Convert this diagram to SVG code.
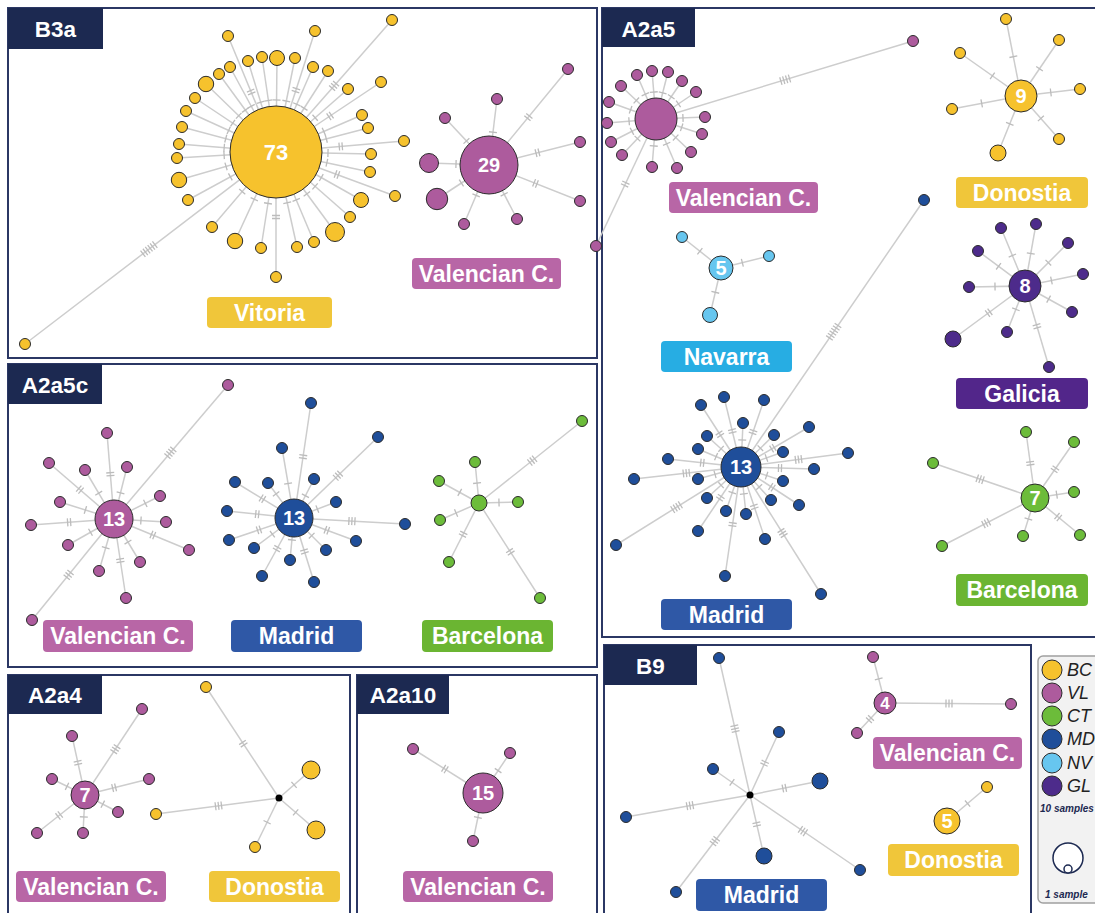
<svg xmlns="http://www.w3.org/2000/svg" width="1095" height="913" viewBox="0 0 1095 913">
<style>
.pn{fill:none;stroke:#2b3764;stroke-width:2}
.hd{fill:#1c2951}
.ht{font-family:"Liberation Sans",Arial,sans-serif;font-weight:bold;font-size:22.5px;fill:#fff;text-anchor:middle}
.ln line{stroke:#cdcdcd;stroke-width:1.5}
marker path{stroke:#bcbcbc;stroke-width:1.3;fill:none}
.n{stroke:#2b2b2b;stroke-width:1}
.bc{fill:#f6c22d}.vl{fill:#ad5b9d}.ct{fill:#6cbc3a}.md{fill:#1f4e9a}.nv{fill:#67c6ef}.gl{fill:#4d2b8b}.bk{fill:#000}
.num{font-family:"Liberation Sans",Arial,sans-serif;font-weight:bold;font-size:20px;fill:#fff;text-anchor:middle}
.lb{font-family:"Liberation Sans",Arial,sans-serif;font-weight:bold;font-size:23px;fill:#fff;text-anchor:middle}
.Lbc{fill:#f0c63a}.Lvl{fill:#b866a6}.Lmd{fill:#2f58a6}.Lct{fill:#6bb532}.Lnv{fill:#27ade3}.Lgl{fill:#52268a}
.lg{font-family:"Liberation Sans",Arial,sans-serif;font-style:italic;font-size:18px;fill:#222}
.ls{font-family:"Liberation Sans",Arial,sans-serif;font-style:italic;font-weight:bold;font-size:10px;fill:#1c2951}
</style>
<defs>
<marker id="s20" orient="auto" markerUnits="userSpaceOnUse" viewBox="0 -10 200 20" markerWidth="200" markerHeight="20" refX="0" refY="0" overflow="visible"><path d="M20-4V4"/></marker>
<marker id="s22" orient="auto" markerUnits="userSpaceOnUse" viewBox="0 -10 200 20" markerWidth="200" markerHeight="20" refX="0" refY="0" overflow="visible"><path d="M22-4V4"/></marker>
<marker id="s25" orient="auto" markerUnits="userSpaceOnUse" viewBox="0 -10 200 20" markerWidth="200" markerHeight="20" refX="0" refY="0" overflow="visible"><path d="M25-4V4"/></marker>
<marker id="s27" orient="auto" markerUnits="userSpaceOnUse" viewBox="0 -10 200 20" markerWidth="200" markerHeight="20" refX="0" refY="0" overflow="visible"><path d="M27-4V4"/></marker>
<marker id="s30" orient="auto" markerUnits="userSpaceOnUse" viewBox="0 -10 200 20" markerWidth="200" markerHeight="20" refX="0" refY="0" overflow="visible"><path d="M30-4V4"/></marker>
<marker id="s33" orient="auto" markerUnits="userSpaceOnUse" viewBox="0 -10 200 20" markerWidth="200" markerHeight="20" refX="0" refY="0" overflow="visible"><path d="M33-4V4"/></marker>
<marker id="s35" orient="auto" markerUnits="userSpaceOnUse" viewBox="0 -10 200 20" markerWidth="200" markerHeight="20" refX="0" refY="0" overflow="visible"><path d="M35-4V4"/></marker>
<marker id="s40" orient="auto" markerUnits="userSpaceOnUse" viewBox="0 -10 200 20" markerWidth="200" markerHeight="20" refX="0" refY="0" overflow="visible"><path d="M40-4V4"/></marker>
<marker id="s52" orient="auto" markerUnits="userSpaceOnUse" viewBox="0 -10 200 20" markerWidth="200" markerHeight="20" refX="0" refY="0" overflow="visible"><path d="M52-4V4"/></marker>
<marker id="d22" orient="auto" markerUnits="userSpaceOnUse" viewBox="0 -10 200 20" markerWidth="200" markerHeight="20" refX="0" refY="0" overflow="visible"><path d="M20.5-4V4M23.5-4V4"/></marker>
<marker id="d30" orient="auto" markerUnits="userSpaceOnUse" viewBox="0 -10 200 20" markerWidth="200" markerHeight="20" refX="0" refY="0" overflow="visible"><path d="M28.5-4V4M31.5-4V4"/></marker>
<marker id="d33" orient="auto" markerUnits="userSpaceOnUse" viewBox="0 -10 200 20" markerWidth="200" markerHeight="20" refX="0" refY="0" overflow="visible"><path d="M31.5-4V4M34.5-4V4"/></marker>
<marker id="d35" orient="auto" markerUnits="userSpaceOnUse" viewBox="0 -10 200 20" markerWidth="200" markerHeight="20" refX="0" refY="0" overflow="visible"><path d="M33.5-4V4M36.5-4V4"/></marker>
<marker id="d37" orient="auto" markerUnits="userSpaceOnUse" viewBox="0 -10 200 20" markerWidth="200" markerHeight="20" refX="0" refY="0" overflow="visible"><path d="M35.5-4V4M38.5-4V4"/></marker>
<marker id="d39" orient="auto" markerUnits="userSpaceOnUse" viewBox="0 -10 200 20" markerWidth="200" markerHeight="20" refX="0" refY="0" overflow="visible"><path d="M37.5-4V4M40.5-4V4"/></marker>
<marker id="d42" orient="auto" markerUnits="userSpaceOnUse" viewBox="0 -10 200 20" markerWidth="200" markerHeight="20" refX="0" refY="0" overflow="visible"><path d="M40.5-4V4M43.5-4V4"/></marker>
<marker id="d45" orient="auto" markerUnits="userSpaceOnUse" viewBox="0 -10 200 20" markerWidth="200" markerHeight="20" refX="0" refY="0" overflow="visible"><path d="M43.5-4V4M46.5-4V4"/></marker>
<marker id="d50" orient="auto" markerUnits="userSpaceOnUse" viewBox="0 -10 200 20" markerWidth="200" markerHeight="20" refX="0" refY="0" overflow="visible"><path d="M48.5-4V4M51.5-4V4"/></marker>
<marker id="d58" orient="auto" markerUnits="userSpaceOnUse" viewBox="0 -10 200 20" markerWidth="200" markerHeight="20" refX="0" refY="0" overflow="visible"><path d="M56.5-4V4M59.5-4V4"/></marker>
<marker id="d62" orient="auto" markerUnits="userSpaceOnUse" viewBox="0 -10 200 20" markerWidth="200" markerHeight="20" refX="0" refY="0" overflow="visible"><path d="M60.5-4V4M63.5-4V4"/></marker>
<marker id="d65" orient="auto" markerUnits="userSpaceOnUse" viewBox="0 -10 200 20" markerWidth="200" markerHeight="20" refX="0" refY="0" overflow="visible"><path d="M63.5-4V4M66.5-4V4"/></marker>
<marker id="d72" orient="auto" markerUnits="userSpaceOnUse" viewBox="0 -10 200 20" markerWidth="200" markerHeight="20" refX="0" refY="0" overflow="visible"><path d="M70.5-4V4M73.5-4V4"/></marker>
<marker id="t55" orient="auto" markerUnits="userSpaceOnUse" viewBox="0 -10 200 20" markerWidth="200" markerHeight="20" refX="0" refY="0" overflow="visible"><path d="M52-4V4M55-4V4M58-4V4"/></marker>
<marker id="t58" orient="auto" markerUnits="userSpaceOnUse" viewBox="0 -10 200 20" markerWidth="200" markerHeight="20" refX="0" refY="0" overflow="visible"><path d="M55-4V4M58-4V4M61-4V4"/></marker>
<marker id="t61" orient="auto" markerUnits="userSpaceOnUse" viewBox="0 -10 200 20" markerWidth="200" markerHeight="20" refX="0" refY="0" overflow="visible"><path d="M58-4V4M61-4V4M64-4V4"/></marker>
<marker id="t64" orient="auto" markerUnits="userSpaceOnUse" viewBox="0 -10 200 20" markerWidth="200" markerHeight="20" refX="0" refY="0" overflow="visible"><path d="M61-4V4M64-4V4M67-4V4"/></marker>
<marker id="t68" orient="auto" markerUnits="userSpaceOnUse" viewBox="0 -10 200 20" markerWidth="200" markerHeight="20" refX="0" refY="0" overflow="visible"><path d="M65-4V4M68-4V4M71-4V4"/></marker>
<marker id="t72" orient="auto" markerUnits="userSpaceOnUse" viewBox="0 -10 200 20" markerWidth="200" markerHeight="20" refX="0" refY="0" overflow="visible"><path d="M69-4V4M72-4V4M75-4V4"/></marker>
<marker id="t78" orient="auto" markerUnits="userSpaceOnUse" viewBox="0 -10 200 20" markerWidth="200" markerHeight="20" refX="0" refY="0" overflow="visible"><path d="M75-4V4M78-4V4M81-4V4"/></marker>
<marker id="t88" orient="auto" markerUnits="userSpaceOnUse" viewBox="0 -10 200 20" markerWidth="200" markerHeight="20" refX="0" refY="0" overflow="visible"><path d="M85-4V4M88-4V4M91-4V4"/></marker>
<marker id="q76" orient="auto" markerUnits="userSpaceOnUse" viewBox="0 -10 200 20" markerWidth="200" markerHeight="20" refX="0" refY="0" overflow="visible"><path d="M71.5-4V4M74.5-4V4M77.5-4V4M80.5-4V4"/></marker>
<marker id="q87" orient="auto" markerUnits="userSpaceOnUse" viewBox="0 -10 200 20" markerWidth="200" markerHeight="20" refX="0" refY="0" overflow="visible"><path d="M82.5-4V4M85.5-4V4M88.5-4V4M91.5-4V4"/></marker>
<marker id="q135" orient="auto" markerUnits="userSpaceOnUse" viewBox="0 -10 200 20" markerWidth="200" markerHeight="20" refX="0" refY="0" overflow="visible"><path d="M130.5-4V4M133.5-4V4M136.5-4V4M139.5-4V4"/></marker>
<marker id="x160" orient="auto" markerUnits="userSpaceOnUse" viewBox="0 -10 200 20" markerWidth="200" markerHeight="20" refX="0" refY="0" overflow="visible"><path d="M152.5-4V4M155.5-4V4M158.5-4V4M161.5-4V4M164.5-4V4M167.5-4V4"/></marker>
<marker id="x164" orient="auto" markerUnits="userSpaceOnUse" viewBox="0 -10 200 20" markerWidth="200" markerHeight="20" refX="0" refY="0" overflow="visible"><path d="M156.5-4V4M159.5-4V4M162.5-4V4M165.5-4V4M168.5-4V4M171.5-4V4"/></marker>
</defs>
<rect width="1095" height="913" fill="#fff"/>
<g id="panels">
<rect class="pn" x="8" y="8" width="589" height="350"/>
<rect class="pn" x="602" y="8" width="500" height="629"/>
<rect class="pn" x="8" y="364" width="589" height="303"/>
<rect class="pn" x="8" y="675" width="342" height="250"/>
<rect class="pn" x="357" y="675" width="240" height="250"/>
<rect class="pn" x="604" y="645" width="427" height="280"/>
</g>
<g id="connectors" class="ln">
<g marker-start="url(#s52)">
<line x1="276" y1="152" x2="248" y2="61"/><line x1="276" y1="152" x2="262" y2="57"/><line x1="276" y1="152" x2="277" y2="58"/><line x1="276" y1="152" x2="295" y2="58"/><line x1="276" y1="152" x2="313" y2="67"/><line x1="276" y1="152" x2="328" y2="71"/><line x1="276" y1="152" x2="348" y2="89"/><line x1="276" y1="152" x2="362" y2="115"/><line x1="276" y1="152" x2="368" y2="128"/><line x1="276" y1="152" x2="371" y2="154"/><line x1="276" y1="152" x2="370" y2="172"/><line x1="276" y1="152" x2="361" y2="200"/><line x1="276" y1="152" x2="350" y2="217"/><line x1="276" y1="152" x2="335" y2="232"/><line x1="276" y1="152" x2="314" y2="242"/><line x1="276" y1="152" x2="297" y2="247"/><line x1="276" y1="152" x2="261" y2="248"/><line x1="276" y1="152" x2="235" y2="241"/><line x1="276" y1="152" x2="212" y2="227"/><line x1="276" y1="152" x2="188" y2="200"/><line x1="276" y1="152" x2="179" y2="180"/><line x1="276" y1="152" x2="177" y2="158"/><line x1="276" y1="152" x2="179" y2="144"/><line x1="276" y1="152" x2="182" y2="127"/><line x1="276" y1="152" x2="186" y2="111"/><line x1="276" y1="152" x2="195" y2="98"/><line x1="276" y1="152" x2="206" y2="84"/><line x1="276" y1="152" x2="219" y2="74"/><line x1="276" y1="152" x2="230" y2="67"/>
</g>
<g marker-start="url(#d65)">
<line x1="276" y1="152" x2="228" y2="36"/><line x1="276" y1="152" x2="315" y2="31"/><line x1="276" y1="152" x2="381" y2="82"/><line x1="276" y1="152" x2="404" y2="141"/><line x1="276" y1="152" x2="395" y2="196"/><line x1="276" y1="152" x2="276" y2="277"/>
</g>
<line x1="276" y1="152" x2="392" y2="20" marker-start="url(#t88)"/>
<line x1="276" y1="152" x2="25" y2="344" marker-start="url(#x160)"/>
<g marker-start="url(#s33)">
<line x1="489" y1="165" x2="497" y2="99"/><line x1="489" y1="165" x2="445" y2="118"/><line x1="489" y1="165" x2="429" y2="163"/><line x1="489" y1="165" x2="437" y2="199"/><line x1="489" y1="165" x2="464" y2="224"/><line x1="489" y1="165" x2="517" y2="219"/>
</g>
<line x1="489" y1="165" x2="568" y2="69" marker-start="url(#d62)"/>
<line x1="489" y1="165" x2="580" y2="142" marker-start="url(#d50)"/>
<line x1="489" y1="165" x2="580" y2="201" marker-start="url(#d50)"/>
<g marker-start="url(#s27)">
<line x1="656" y1="119" x2="637" y2="75"/><line x1="656" y1="119" x2="652" y2="71"/><line x1="656" y1="119" x2="668" y2="72"/><line x1="656" y1="119" x2="682" y2="81"/><line x1="656" y1="119" x2="696" y2="92"/><line x1="656" y1="119" x2="705" y2="117"/><line x1="656" y1="119" x2="702" y2="134"/><line x1="656" y1="119" x2="691" y2="152"/><line x1="656" y1="119" x2="677" y2="168"/><line x1="656" y1="119" x2="652" y2="167"/><line x1="656" y1="119" x2="622" y2="155"/><line x1="656" y1="119" x2="611" y2="142"/><line x1="656" y1="119" x2="607" y2="123"/><line x1="656" y1="119" x2="609" y2="102"/><line x1="656" y1="119" x2="621" y2="86"/>
</g>
<line x1="656" y1="119" x2="913" y2="41" marker-start="url(#q135)"/>
<line x1="656" y1="119" x2="596" y2="246" marker-start="url(#d72)"/>
<line x1="1021" y1="96" x2="1006" y2="19" marker-start="url(#s40)"/>
<line x1="1021" y1="96" x2="1059" y2="40" marker-start="url(#s33)"/>
<line x1="1021" y1="96" x2="1080" y2="89" marker-start="url(#s30)"/>
<line x1="1021" y1="96" x2="1059" y2="139" marker-start="url(#s30)"/>
<line x1="1021" y1="96" x2="998" y2="153" marker-start="url(#s30)"/>
<line x1="1021" y1="96" x2="952" y2="109" marker-start="url(#s40)"/>
<line x1="1021" y1="96" x2="960" y2="53" marker-start="url(#s35)"/>
<line x1="1025" y1="286" x2="1001" y2="228" marker-start="url(#s33)"/>
<line x1="1025" y1="286" x2="1036" y2="224" marker-start="url(#s33)"/>
<line x1="1025" y1="286" x2="1068" y2="243" marker-start="url(#s33)"/>
<line x1="1025" y1="286" x2="1083" y2="274" marker-start="url(#s27)"/>
<line x1="1025" y1="286" x2="1072" y2="312" marker-start="url(#s27)"/>
<line x1="1025" y1="286" x2="1049" y2="367" marker-start="url(#d42)"/>
<line x1="1025" y1="286" x2="1007" y2="332" marker-start="url(#s25)"/>
<line x1="1025" y1="286" x2="953" y2="339" marker-start="url(#d45)"/>
<line x1="1025" y1="286" x2="969" y2="287" marker-start="url(#s30)"/>
<line x1="1025" y1="286" x2="978" y2="251" marker-start="url(#s33)"/>
<line x1="721" y1="268" x2="682" y2="237" marker-start="url(#s27)"/>
<line x1="721" y1="268" x2="769" y2="256" marker-start="url(#s22)"/>
<line x1="721" y1="268" x2="710" y2="315" marker-start="url(#s25)"/>
<g marker-start="url(#s27)">
<line x1="741" y1="467" x2="743" y2="423"/><line x1="741" y1="467" x2="707" y2="436"/><line x1="741" y1="467" x2="774" y2="435"/><line x1="741" y1="467" x2="698" y2="449"/><line x1="741" y1="467" x2="783" y2="452"/><line x1="741" y1="467" x2="698" y2="479"/><line x1="741" y1="467" x2="783" y2="481"/><line x1="741" y1="467" x2="707" y2="498"/><line x1="741" y1="467" x2="771" y2="500"/><line x1="741" y1="467" x2="726" y2="511"/><line x1="741" y1="467" x2="746" y2="514"/>
</g>
<g marker-start="url(#d37)">
<line x1="741" y1="467" x2="724" y2="397"/><line x1="741" y1="467" x2="764" y2="400"/><line x1="741" y1="467" x2="809" y2="427"/><line x1="741" y1="467" x2="799" y2="505"/><line x1="741" y1="467" x2="698" y2="531"/>
</g>
<g marker-start="url(#d39)">
<line x1="741" y1="467" x2="701" y2="405"/><line x1="741" y1="467" x2="668" y2="459"/><line x1="741" y1="467" x2="814" y2="469"/>
</g>
<line x1="741" y1="467" x2="848" y2="453" marker-start="url(#t58)"/>
<line x1="741" y1="467" x2="634" y2="479" marker-start="url(#t55)"/>
<line x1="741" y1="467" x2="765" y2="539" marker-start="url(#d42)"/>
<line x1="741" y1="467" x2="616" y2="545" marker-start="url(#q76)"/>
<line x1="741" y1="467" x2="725" y2="576" marker-start="url(#d58)"/>
<line x1="741" y1="467" x2="821" y2="594" marker-start="url(#t78)"/>
<line x1="741" y1="467" x2="924" y2="200" marker-start="url(#x164)"/>
<line x1="1035" y1="498" x2="1026" y2="432" marker-start="url(#d35)"/>
<line x1="1035" y1="498" x2="1074" y2="442" marker-start="url(#d35)"/>
<line x1="1035" y1="498" x2="1074" y2="492" marker-start="url(#s22)"/>
<line x1="1035" y1="498" x2="1080" y2="535" marker-start="url(#d30)"/>
<line x1="1035" y1="498" x2="1023" y2="536" marker-start="url(#s22)"/>
<line x1="1035" y1="498" x2="942" y2="546" marker-start="url(#t55)"/>
<line x1="1035" y1="498" x2="933" y2="463" marker-start="url(#t58)"/>
<line x1="114" y1="519" x2="228" y2="385" marker-start="url(#q87)"/>
<line x1="114" y1="519" x2="107" y2="433" marker-start="url(#d45)"/>
<line x1="114" y1="519" x2="49" y2="463" marker-start="url(#d45)"/>
<line x1="114" y1="519" x2="85" y2="470" marker-start="url(#s30)"/>
<line x1="114" y1="519" x2="127" y2="467" marker-start="url(#s27)"/>
<line x1="114" y1="519" x2="160" y2="496" marker-start="url(#s35)"/>
<line x1="114" y1="519" x2="60" y2="502" marker-start="url(#s30)"/>
<line x1="114" y1="519" x2="166" y2="522" marker-start="url(#s27)"/>
<line x1="114" y1="519" x2="31" y2="525" marker-start="url(#d45)"/>
<line x1="114" y1="519" x2="189" y2="550" marker-start="url(#d42)"/>
<line x1="114" y1="519" x2="68" y2="545" marker-start="url(#s27)"/>
<line x1="114" y1="519" x2="140" y2="562" marker-start="url(#s27)"/>
<line x1="114" y1="519" x2="99" y2="571" marker-start="url(#s30)"/>
<line x1="114" y1="519" x2="126" y2="598" marker-start="url(#d42)"/>
<line x1="114" y1="519" x2="32" y2="620" marker-start="url(#t72)"/>
<line x1="294" y1="518" x2="311" y2="403" marker-start="url(#d62)"/>
<line x1="294" y1="518" x2="378" y2="437" marker-start="url(#t61)"/>
<line x1="294" y1="518" x2="282" y2="448" marker-start="url(#s35)"/>
<line x1="294" y1="518" x2="235" y2="482" marker-start="url(#d37)"/>
<line x1="294" y1="518" x2="268" y2="483" marker-start="url(#s30)"/>
<line x1="294" y1="518" x2="314" y2="479" marker-start="url(#s25)"/>
<line x1="294" y1="518" x2="336" y2="502" marker-start="url(#s25)"/>
<line x1="294" y1="518" x2="227" y2="511" marker-start="url(#d37)"/>
<line x1="294" y1="518" x2="405" y2="524" marker-start="url(#t58)"/>
<line x1="294" y1="518" x2="229" y2="540" marker-start="url(#d37)"/>
<line x1="294" y1="518" x2="356" y2="541" marker-start="url(#d35)"/>
<line x1="294" y1="518" x2="254" y2="548" marker-start="url(#s27)"/>
<line x1="294" y1="518" x2="326" y2="550" marker-start="url(#s25)"/>
<line x1="294" y1="518" x2="290" y2="560" marker-start="url(#s22)"/>
<line x1="294" y1="518" x2="262" y2="576" marker-start="url(#d35)"/>
<line x1="294" y1="518" x2="314" y2="582" marker-start="url(#d35)"/>
<line x1="479" y1="503" x2="582" y2="421" marker-start="url(#t68)"/>
<line x1="479" y1="503" x2="475" y2="462" marker-start="url(#s20)"/>
<line x1="479" y1="503" x2="439" y2="481" marker-start="url(#s22)"/>
<line x1="479" y1="503" x2="518" y2="502" marker-start="url(#s20)"/>
<line x1="479" y1="503" x2="440" y2="520" marker-start="url(#s25)"/>
<line x1="479" y1="503" x2="449" y2="562" marker-start="url(#d35)"/>
<line x1="479" y1="503" x2="540" y2="598" marker-start="url(#d58)"/>
<line x1="85" y1="795" x2="142" y2="709" marker-start="url(#t55)"/>
<line x1="85" y1="795" x2="72" y2="736" marker-start="url(#d33)"/>
<line x1="85" y1="795" x2="52" y2="779" marker-start="url(#s20)"/>
<line x1="85" y1="795" x2="149" y2="779" marker-start="url(#d30)"/>
<line x1="85" y1="795" x2="118" y2="812" marker-start="url(#s20)"/>
<line x1="85" y1="795" x2="37" y2="833" marker-start="url(#d33)"/>
<line x1="85" y1="795" x2="83" y2="833" marker-start="url(#s22)"/>
<line x1="279" y1="798" x2="206" y2="687" marker-start="url(#d65)"/>
<line x1="279" y1="798" x2="156" y2="814" marker-start="url(#t61)"/>
<line x1="279" y1="798" x2="311" y2="770" marker-start="url(#s20)"/>
<line x1="279" y1="798" x2="316" y2="830" marker-start="url(#s22)"/>
<line x1="279" y1="798" x2="255" y2="847" marker-start="url(#s27)"/>
<line x1="483" y1="793" x2="413" y2="749" marker-start="url(#d45)"/>
<line x1="483" y1="793" x2="510" y2="753" marker-start="url(#s27)"/>
<line x1="483" y1="793" x2="473" y2="841" marker-start="url(#s25)"/>
<line x1="750" y1="795" x2="719" y2="658" marker-start="url(#t68)"/>
<line x1="750" y1="795" x2="779" y2="732" marker-start="url(#d35)"/>
<line x1="750" y1="795" x2="713" y2="769" marker-start="url(#s22)"/>
<line x1="750" y1="795" x2="820" y2="781" marker-start="url(#d35)"/>
<line x1="750" y1="795" x2="626" y2="817" marker-start="url(#t61)"/>
<line x1="750" y1="795" x2="764" y2="856" marker-start="url(#d30)"/>
<line x1="750" y1="795" x2="860" y2="870" marker-start="url(#t64)"/>
<line x1="750" y1="795" x2="676" y2="892" marker-start="url(#t58)"/>
<line x1="885" y1="703" x2="873" y2="657" marker-start="url(#s25)"/>
<line x1="885" y1="703" x2="1011" y2="704" marker-start="url(#t64)"/>
<line x1="885" y1="703" x2="857" y2="733" marker-start="url(#d22)"/>
<line x1="947" y1="821" x2="987" y2="787" marker-start="url(#s27)"/>
</g>
<g id="b3a-vitoria">
<circle id="b3a-y1" class="n bc" cx="228" cy="36" r="5.5"/><circle id="b3a-y2" class="n bc" cx="315" cy="31" r="5.5"/><circle id="b3a-y3" class="n bc" cx="392" cy="20" r="5.5"/><circle id="b3a-y4" class="n bc" cx="248" cy="61" r="5.5"/><circle id="b3a-y5" class="n bc" cx="262" cy="57" r="5.5"/><circle id="b3a-y6" class="n bc" cx="277" cy="58" r="7.5"/><circle id="b3a-y7" class="n bc" cx="295" cy="58" r="5.5"/><circle id="b3a-y8" class="n bc" cx="313" cy="67" r="5.5"/><circle id="b3a-y9" class="n bc" cx="328" cy="71" r="5.5"/><circle id="b3a-y10" class="n bc" cx="348" cy="89" r="5.5"/><circle id="b3a-y11" class="n bc" cx="381" cy="82" r="5.5"/><circle id="b3a-y12" class="n bc" cx="362" cy="115" r="5.5"/><circle id="b3a-y13" class="n bc" cx="368" cy="128" r="5.5"/><circle id="b3a-y14" class="n bc" cx="404" cy="141" r="5.5"/><circle id="b3a-y15" class="n bc" cx="371" cy="154" r="5.5"/><circle id="b3a-y16" class="n bc" cx="370" cy="172" r="5.5"/><circle id="b3a-y17" class="n bc" cx="395" cy="196" r="5.5"/><circle id="b3a-y18" class="n bc" cx="361" cy="200" r="7.5"/><circle id="b3a-y19" class="n bc" cx="350" cy="217" r="5.5"/><circle id="b3a-y20" class="n bc" cx="335" cy="232" r="9.5"/><circle id="b3a-y21" class="n bc" cx="314" cy="242" r="5.5"/><circle id="b3a-y22" class="n bc" cx="297" cy="247" r="5.5"/><circle id="b3a-y23" class="n bc" cx="276" cy="277" r="5.5"/><circle id="b3a-y24" class="n bc" cx="261" cy="248" r="5.5"/><circle id="b3a-y25" class="n bc" cx="235" cy="241" r="7.7"/><circle id="b3a-y26" class="n bc" cx="212" cy="227" r="5.5"/><circle id="b3a-y27" class="n bc" cx="188" cy="200" r="5.5"/><circle id="b3a-y28" class="n bc" cx="179" cy="180" r="7.7"/><circle id="b3a-y29" class="n bc" cx="177" cy="158" r="5.5"/><circle id="b3a-y30" class="n bc" cx="179" cy="144" r="5.5"/><circle id="b3a-y31" class="n bc" cx="182" cy="127" r="5.5"/><circle id="b3a-y32" class="n bc" cx="186" cy="111" r="5.5"/><circle id="b3a-y33" class="n bc" cx="195" cy="98" r="5.5"/><circle id="b3a-y34" class="n bc" cx="206" cy="84" r="7.7"/><circle id="b3a-y35" class="n bc" cx="219" cy="74" r="5.5"/><circle id="b3a-y36" class="n bc" cx="230" cy="67" r="5.5"/><circle id="b3a-y37" class="n bc" cx="25" cy="344" r="5.5"/>
<g id="b3a-hub73"><circle class="n bc" cx="276" cy="152" r="46"/><text class="num" x="276" y="160" style="font-size:22px">73</text></g>
</g>
<g id="b3a-valencian">
<circle id="b3a-v1" class="n vl" cx="568" cy="69" r="5.5"/><circle id="b3a-v2" class="n vl" cx="497" cy="99" r="5.5"/><circle id="b3a-v3" class="n vl" cx="445" cy="118" r="5.5"/><circle id="b3a-v4" class="n vl" cx="429" cy="163" r="9.5"/><circle id="b3a-v5" class="n vl" cx="437" cy="199" r="10.7"/><circle id="b3a-v6" class="n vl" cx="464" cy="224" r="5.5"/><circle id="b3a-v7" class="n vl" cx="517" cy="219" r="5.5"/><circle id="b3a-v8" class="n vl" cx="580" cy="142" r="5.5"/><circle id="b3a-v9" class="n vl" cx="580" cy="201" r="5.5"/>
<g id="b3a-hub29"><circle class="n vl" cx="489" cy="165" r="29"/><text class="num" x="489" y="172">29</text></g>
</g>
<g id="a2a5-valencian">
<circle id="a2a5-v1" class="n vl" cx="637" cy="75" r="5.5"/><circle id="a2a5-v2" class="n vl" cx="652" cy="71" r="5.5"/><circle id="a2a5-v3" class="n vl" cx="668" cy="72" r="5.5"/><circle id="a2a5-v4" class="n vl" cx="682" cy="81" r="5.5"/><circle id="a2a5-v5" class="n vl" cx="696" cy="92" r="5.5"/><circle id="a2a5-v6" class="n vl" cx="705" cy="117" r="5.5"/><circle id="a2a5-v7" class="n vl" cx="702" cy="134" r="5.5"/><circle id="a2a5-v8" class="n vl" cx="691" cy="152" r="5.5"/><circle id="a2a5-v9" class="n vl" cx="677" cy="168" r="5.5"/><circle id="a2a5-v10" class="n vl" cx="652" cy="167" r="5.5"/><circle id="a2a5-v11" class="n vl" cx="622" cy="155" r="5.5"/><circle id="a2a5-v12" class="n vl" cx="611" cy="142" r="5.5"/><circle id="a2a5-v13" class="n vl" cx="607" cy="123" r="5.5"/><circle id="a2a5-v14" class="n vl" cx="609" cy="102" r="5.5"/><circle id="a2a5-v15" class="n vl" cx="621" cy="86" r="5.5"/><circle id="a2a5-v16" class="n vl" cx="913" cy="41" r="5.5"/><circle id="a2a5-v17" class="n vl" cx="596" cy="246" r="5.5"/>
<g id="a2a5-hubvl"><circle class="n vl" cx="656" cy="119" r="21"/></g>
</g>
<g id="a2a5-donostia">
<circle id="a2a5-d1" class="n bc" cx="1006" cy="19" r="5.5"/><circle id="a2a5-d2" class="n bc" cx="1059" cy="40" r="5.5"/><circle id="a2a5-d3" class="n bc" cx="1080" cy="89" r="5.5"/><circle id="a2a5-d4" class="n bc" cx="1059" cy="139" r="5.5"/><circle id="a2a5-d5" class="n bc" cx="998" cy="153" r="8"/><circle id="a2a5-d6" class="n bc" cx="952" cy="109" r="5.5"/><circle id="a2a5-d7" class="n bc" cx="960" cy="53" r="5.5"/>
<g id="a2a5-hub9"><circle class="n bc" cx="1021" cy="96" r="16"/><text class="num" x="1021" y="103">9</text></g>
</g>
<g id="a2a5-galicia">
<circle id="a2a5-g1" class="n gl" cx="1001" cy="228" r="5.5"/><circle id="a2a5-g2" class="n gl" cx="1036" cy="224" r="5.5"/><circle id="a2a5-g3" class="n gl" cx="1068" cy="243" r="5.5"/><circle id="a2a5-g4" class="n gl" cx="1083" cy="274" r="5.5"/><circle id="a2a5-g5" class="n gl" cx="1072" cy="312" r="5.5"/><circle id="a2a5-g6" class="n gl" cx="1049" cy="367" r="5.5"/><circle id="a2a5-g7" class="n gl" cx="1007" cy="332" r="5.5"/><circle id="a2a5-g8" class="n gl" cx="953" cy="339" r="8"/><circle id="a2a5-g9" class="n gl" cx="969" cy="287" r="5.5"/><circle id="a2a5-g10" class="n gl" cx="978" cy="251" r="5.5"/>
<g id="a2a5-hub8"><circle class="n gl" cx="1025" cy="286" r="16"/><text class="num" x="1025" y="293">8</text></g>
</g>
<g id="a2a5-navarra">
<circle id="a2a5-n1" class="n nv" cx="682" cy="237" r="5.5"/><circle id="a2a5-n2" class="n nv" cx="769" cy="256" r="5.5"/><circle id="a2a5-n3" class="n nv" cx="710" cy="315" r="7.5"/>
<g id="a2a5-hub5"><circle class="n nv" cx="721" cy="268" r="12"/><text class="num" x="721" y="275">5</text></g>
</g>
<g id="a2a5-madrid">
<circle id="a2a5-m1" class="n md" cx="701" cy="405" r="5.5"/><circle id="a2a5-m2" class="n md" cx="724" cy="397" r="5.5"/><circle id="a2a5-m3" class="n md" cx="764" cy="400" r="5.5"/><circle id="a2a5-m4" class="n md" cx="743" cy="423" r="5.5"/><circle id="a2a5-m5" class="n md" cx="707" cy="436" r="5.5"/><circle id="a2a5-m6" class="n md" cx="774" cy="435" r="5.5"/><circle id="a2a5-m7" class="n md" cx="809" cy="427" r="5.5"/><circle id="a2a5-m8" class="n md" cx="698" cy="449" r="5.5"/><circle id="a2a5-m9" class="n md" cx="783" cy="452" r="5.5"/><circle id="a2a5-m10" class="n md" cx="848" cy="453" r="5.5"/><circle id="a2a5-m11" class="n md" cx="668" cy="459" r="5.5"/><circle id="a2a5-m12" class="n md" cx="814" cy="469" r="5.5"/><circle id="a2a5-m13" class="n md" cx="634" cy="479" r="5.5"/><circle id="a2a5-m14" class="n md" cx="698" cy="479" r="5.5"/><circle id="a2a5-m15" class="n md" cx="783" cy="481" r="5.5"/><circle id="a2a5-m16" class="n md" cx="707" cy="498" r="5.5"/><circle id="a2a5-m17" class="n md" cx="771" cy="500" r="5.5"/><circle id="a2a5-m18" class="n md" cx="799" cy="505" r="5.5"/><circle id="a2a5-m19" class="n md" cx="726" cy="511" r="5.5"/><circle id="a2a5-m20" class="n md" cx="746" cy="514" r="5.5"/><circle id="a2a5-m21" class="n md" cx="698" cy="531" r="5.5"/><circle id="a2a5-m22" class="n md" cx="765" cy="539" r="5.5"/><circle id="a2a5-m23" class="n md" cx="616" cy="545" r="5.5"/><circle id="a2a5-m24" class="n md" cx="725" cy="576" r="5.5"/><circle id="a2a5-m25" class="n md" cx="821" cy="594" r="5.5"/><circle id="a2a5-m26" class="n md" cx="924" cy="200" r="5.5"/>
<g id="a2a5-hub13"><circle class="n md" cx="741" cy="467" r="20"/><text class="num" x="741" y="474">13</text></g>
</g>
<g id="a2a5-barcelona">
<circle id="a2a5-b1" class="n ct" cx="1026" cy="432" r="5.5"/><circle id="a2a5-b2" class="n ct" cx="1074" cy="442" r="5.5"/><circle id="a2a5-b3" class="n ct" cx="1074" cy="492" r="5.5"/><circle id="a2a5-b4" class="n ct" cx="1080" cy="535" r="5.5"/><circle id="a2a5-b5" class="n ct" cx="1023" cy="536" r="5.5"/><circle id="a2a5-b6" class="n ct" cx="942" cy="546" r="5.5"/><circle id="a2a5-b7" class="n ct" cx="933" cy="463" r="5.5"/>
<g id="a2a5-hub7"><circle class="n ct" cx="1035" cy="498" r="14"/><text class="num" x="1035" y="505">7</text></g>
</g>
<g id="a2a5c-valencian">
<circle id="c-v1" class="n vl" cx="228" cy="385" r="5.5"/><circle id="c-v2" class="n vl" cx="107" cy="433" r="5.5"/><circle id="c-v3" class="n vl" cx="49" cy="463" r="5.5"/><circle id="c-v4" class="n vl" cx="85" cy="470" r="5.5"/><circle id="c-v5" class="n vl" cx="127" cy="467" r="5.5"/><circle id="c-v6" class="n vl" cx="160" cy="496" r="5.5"/><circle id="c-v7" class="n vl" cx="60" cy="502" r="5.5"/><circle id="c-v8" class="n vl" cx="166" cy="522" r="5.5"/><circle id="c-v9" class="n vl" cx="31" cy="525" r="5.5"/><circle id="c-v10" class="n vl" cx="189" cy="550" r="5.5"/><circle id="c-v11" class="n vl" cx="68" cy="545" r="5.5"/><circle id="c-v12" class="n vl" cx="140" cy="562" r="5.5"/><circle id="c-v13" class="n vl" cx="99" cy="571" r="5.5"/><circle id="c-v14" class="n vl" cx="126" cy="598" r="5.5"/><circle id="c-v15" class="n vl" cx="32" cy="620" r="5.5"/>
<g id="a2a5c-hubvl"><circle class="n vl" cx="114" cy="519" r="19"/><text class="num" x="114" y="526">13</text></g>
</g>
<g id="a2a5c-madrid">
<circle id="c-m1" class="n md" cx="311" cy="403" r="5.5"/><circle id="c-m2" class="n md" cx="378" cy="437" r="5.5"/><circle id="c-m3" class="n md" cx="282" cy="448" r="5.5"/><circle id="c-m4" class="n md" cx="235" cy="482" r="5.5"/><circle id="c-m5" class="n md" cx="268" cy="483" r="5.5"/><circle id="c-m6" class="n md" cx="314" cy="479" r="5.5"/><circle id="c-m7" class="n md" cx="336" cy="502" r="5.5"/><circle id="c-m8" class="n md" cx="227" cy="511" r="5.5"/><circle id="c-m9" class="n md" cx="405" cy="524" r="5.5"/><circle id="c-m10" class="n md" cx="229" cy="540" r="5.5"/><circle id="c-m11" class="n md" cx="356" cy="541" r="5.5"/><circle id="c-m12" class="n md" cx="254" cy="548" r="5.5"/><circle id="c-m13" class="n md" cx="326" cy="550" r="5.5"/><circle id="c-m14" class="n md" cx="290" cy="560" r="5.5"/><circle id="c-m15" class="n md" cx="262" cy="576" r="5.5"/><circle id="c-m16" class="n md" cx="314" cy="582" r="5.5"/>
<g id="a2a5c-hubmd"><circle class="n md" cx="294" cy="518" r="19"/><text class="num" x="294" y="525">13</text></g>
</g>
<g id="a2a5c-barcelona">
<circle id="c-b1" class="n ct" cx="582" cy="421" r="5.5"/><circle id="c-b2" class="n ct" cx="475" cy="462" r="5.5"/><circle id="c-b3" class="n ct" cx="439" cy="481" r="5.5"/><circle id="c-b4" class="n ct" cx="518" cy="502" r="5.5"/><circle id="c-b5" class="n ct" cx="440" cy="520" r="5.5"/><circle id="c-b6" class="n ct" cx="449" cy="562" r="5.5"/><circle id="c-b7" class="n ct" cx="540" cy="598" r="5.5"/>
<g id="a2a5c-hubct"><circle class="n ct" cx="479" cy="503" r="8"/></g>
</g>
<g id="a2a4-valencian">
<circle id="a4-v1" class="n vl" cx="142" cy="709" r="5.5"/><circle id="a4-v2" class="n vl" cx="72" cy="736" r="5.5"/><circle id="a4-v3" class="n vl" cx="52" cy="779" r="5.5"/><circle id="a4-v4" class="n vl" cx="149" cy="779" r="5.5"/><circle id="a4-v5" class="n vl" cx="118" cy="812" r="5.5"/><circle id="a4-v6" class="n vl" cx="37" cy="833" r="5.5"/><circle id="a4-v7" class="n vl" cx="83" cy="833" r="5.5"/>
<g id="a2a4-hub7"><circle class="n vl" cx="85" cy="795" r="14"/><text class="num" x="85" y="802">7</text></g>
</g>
<g id="a2a4-donostia">
<circle id="a4-d1" class="n bc" cx="206" cy="687" r="5.5"/><circle id="a4-d2" class="n bc" cx="156" cy="814" r="5.5"/><circle id="a4-d3" class="n bc" cx="311" cy="770" r="9"/><circle id="a4-d4" class="n bc" cx="316" cy="830" r="9"/><circle id="a4-d5" class="n bc" cx="255" cy="847" r="5.5"/>
<circle id="a4-median" class="bk" cx="279" cy="798" r="3.5"/>
</g>
<g id="a2a10-valencian">
<circle id="a10-v1" class="n vl" cx="413" cy="749" r="5.5"/><circle id="a10-v2" class="n vl" cx="510" cy="753" r="5.5"/><circle id="a10-v3" class="n vl" cx="473" cy="841" r="5.5"/>
<g id="a2a10-hub15"><circle class="n vl" cx="483" cy="793" r="20"/><text class="num" x="483" y="800">15</text></g>
</g>
<g id="b9-madrid">
<circle id="b9-m1" class="n md" cx="719" cy="658" r="5.5"/><circle id="b9-m2" class="n md" cx="779" cy="732" r="5.5"/><circle id="b9-m3" class="n md" cx="713" cy="769" r="5.5"/><circle id="b9-m4" class="n md" cx="820" cy="781" r="8"/><circle id="b9-m5" class="n md" cx="626" cy="817" r="5.5"/><circle id="b9-m6" class="n md" cx="764" cy="856" r="8"/><circle id="b9-m7" class="n md" cx="860" cy="870" r="5.5"/><circle id="b9-m8" class="n md" cx="676" cy="892" r="5.5"/>
<circle id="b9-median" class="bk" cx="750" cy="795" r="3.5"/>
</g>
<g id="b9-valencian">
<circle id="b9-v1" class="n vl" cx="873" cy="657" r="5.5"/><circle id="b9-v2" class="n vl" cx="1011" cy="704" r="5.5"/><circle id="b9-v3" class="n vl" cx="857" cy="733" r="5.5"/>
<g id="b9-hub4"><circle class="n vl" cx="885" cy="703" r="11"/><text class="num" x="885" y="709" style="font-size:17px">4</text></g>
</g>
<g id="b9-donostia">
<circle id="b9-d1" class="n bc" cx="987" cy="787" r="5.5"/>
<g id="b9-hub5"><circle class="n bc" cx="947" cy="821" r="13"/><text class="num" x="947" y="828">5</text></g>
</g>
<g id="labels">
<g id="lb-vitoria"><rect class="Lbc" x="207" y="297" width="125" height="31" rx="4"/><text class="lb" x="269.5" y="320.5">Vitoria</text></g>
<g id="lb-b3a-vl"><rect class="Lvl" x="412" y="258" width="149" height="31" rx="4"/><text class="lb" x="486.5" y="281.5">Valencian C.</text></g>
<g id="lb-a2a5-vl"><rect class="Lvl" x="669" y="182" width="149" height="31" rx="4"/><text class="lb" x="743.5" y="205.5">Valencian C.</text></g>
<g id="lb-a2a5-don"><rect class="Lbc" x="956" y="177" width="132" height="31" rx="4"/><text class="lb" x="1022" y="200.5">Donostia</text></g>
<g id="lb-galicia"><rect class="Lgl" x="956" y="378" width="132" height="31" rx="4"/><text class="lb" x="1022" y="401.5">Galicia</text></g>
<g id="lb-navarra"><rect class="Lnv" x="661" y="341" width="131" height="31" rx="4"/><text class="lb" x="726.5" y="364.5">Navarra</text></g>
<g id="lb-a2a5-md"><rect class="Lmd" x="661" y="599" width="131" height="31" rx="4"/><text class="lb" x="726.5" y="622.5">Madrid</text></g>
<g id="lb-a2a5-ct"><rect class="Lct" x="956" y="574" width="132" height="32" rx="4"/><text class="lb" x="1022" y="598">Barcelona</text></g>
<g id="lb-c-vl"><rect class="Lvl" x="43" y="620" width="150" height="32" rx="4"/><text class="lb" x="118" y="644">Valencian C.</text></g>
<g id="lb-c-md"><rect class="Lmd" x="231" y="620" width="131" height="32" rx="4"/><text class="lb" x="296.5" y="644">Madrid</text></g>
<g id="lb-c-ct"><rect class="Lct" x="422" y="620" width="131" height="32" rx="4"/><text class="lb" x="487.5" y="644">Barcelona</text></g>
<g id="lb-a4-vl"><rect class="Lvl" x="16" y="871" width="150" height="31" rx="4"/><text class="lb" x="91" y="894.5">Valencian C.</text></g>
<g id="lb-a4-don"><rect class="Lbc" x="209" y="871" width="131" height="31" rx="4"/><text class="lb" x="274.5" y="894.5">Donostia</text></g>
<g id="lb-a10-vl"><rect class="Lvl" x="403" y="871" width="150" height="31" rx="4"/><text class="lb" x="478" y="894.5">Valencian C.</text></g>
<g id="lb-b9-vl"><rect class="Lvl" x="873" y="737" width="149" height="32" rx="4"/><text class="lb" x="947.5" y="761">Valencian C.</text></g>
<g id="lb-b9-don"><rect class="Lbc" x="888" y="844" width="131" height="32" rx="4"/><text class="lb" x="953.5" y="868">Donostia</text></g>
<g id="lb-b9-md"><rect class="Lmd" x="696" y="879" width="131" height="32" rx="4"/><text class="lb" x="761.5" y="903">Madrid</text></g>
</g>
<g id="headers">
<g id="h-b3a"><rect class="hd" x="8" y="8" width="95" height="41"/><text class="ht" x="55.5" y="37">B3a</text></g>
<g id="h-a2a5"><rect class="hd" x="602" y="8" width="93" height="39"/><text class="ht" x="648.5" y="37">A2a5</text></g>
<g id="h-a2a5c"><rect class="hd" x="8" y="364" width="94" height="40"/><text class="ht" x="55" y="393">A2a5c</text></g>
<g id="h-a2a4"><rect class="hd" x="8" y="675" width="94" height="39"/><text class="ht" x="55" y="703">A2a4</text></g>
<g id="h-a2a10"><rect class="hd" x="357" y="675" width="92" height="39"/><text class="ht" x="403" y="703">A2a10</text></g>
<g id="h-b9"><rect class="hd" x="604" y="645" width="93" height="40"/><text class="ht" x="650.5" y="674">B9</text></g>
</g>
<g id="legend">
<rect x="1038" y="656" width="70" height="247" rx="5" fill="#f2f2f2" stroke="#a0a0a0" stroke-width="1.5"/>
<circle class="n bc" cx="1052" cy="670" r="10"/><text class="lg" x="1067" y="676">BC</text>
<circle class="n vl" cx="1052" cy="693" r="10"/><text class="lg" x="1067" y="699">VL</text>
<circle class="n ct" cx="1052" cy="716" r="10"/><text class="lg" x="1067" y="722">CT</text>
<circle class="n md" cx="1052" cy="739" r="10"/><text class="lg" x="1067" y="745">MD</text>
<circle class="n nv" cx="1052" cy="763" r="10"/><text class="lg" x="1067" y="769">NV</text>
<circle class="n gl" cx="1052" cy="786" r="10"/><text class="lg" x="1067" y="792">GL</text>
<text class="ls" x="1040" y="812">10 samples</text>
<circle cx="1068" cy="858" r="15" fill="#fff" stroke="#1c2951" stroke-width="1.5"/>
<circle cx="1068" cy="869" r="4" fill="#fff" stroke="#1c2951" stroke-width="1.5"/>
<text class="ls" x="1045" y="898">1 sample</text>
</g>
</svg>
